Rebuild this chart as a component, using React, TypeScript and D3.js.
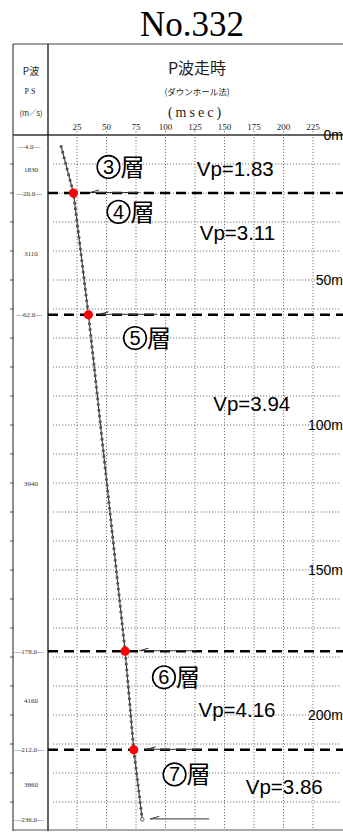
import React from "react";
import * as d3 from "d3";

const W = 343;
const H = 832;

// travel-time curve (depth m, time msec)
const depths = [4, 20, 40, 62, 80, 100, 120, 140, 160, 178, 195, 212, 224, 236];
const times = [11.6, 22.0, 28.1, 34.7, 39.6, 44.9, 50.3, 55.6, 61.0, 65.8, 69.5, 73.1, 76.7, 80.3];

// layer boundaries
const boundaries = [20, 62, 178, 212];
const boundaryTimes = [22.0, 34.7, 65.8, 73.1];
const arrowDepths = [20, 62, 178, 212, 236];
const arrowStarts = [36, 44, 78, 84, 87];
const arrowEnds = [78, 93, 126, 129, 137];

// left column labels
const depthMarks = ["-4.0-", "-20.0-", "-62.0-", "-178.0-", "-212.0-", "-236.0-"];
const depthMarkVals = [4, 20, 62, 178, 212, 236];
const psVals = ["1830", "3110", "3940", "4160", "3860"];
const psDepths = [12, 41, 120, 195, 224];

// annotations
const layerNums = ["3", "4", "5", "6", "7"];
const layerX = [41.5, 50, 64, 88.5, 97.5];
const layerDepth = [11, 26.5, 70, 187, 220.5];
const vpTexts = ["Vp=1.83", "Vp=3.11", "Vp=3.94", "Vp=4.16", "Vp=3.86"];
const vpX = [126.5, 129, 140.5, 128, 168];
const vpDepth = [11.5, 33.5, 92.5, 198, 224.5];

const timeTicks = [25, 50, 75, 100, 125, 150, 175, 200, 225];
const depthLabels = ["0m", "50m", "100m", "150m", "200m"];
const depthLabelVals = [0, 50, 100, 150, 200];
const gridDepths = d3.range(10, 240, 10);

export default function App() {
  const x = d3.scaleLinear().domain([0, 250]).range([47.5, 342.5]);
  const y = d3.scaleLinear().domain([0, 240]).range([135, 831]);
  const pts: [number, number][] = depths.map((d, i) => [x(times[i]), y(d)]);
  const line = d3.line()(pts) || "";
  const ink = "#222";
  const sans = "'Liberation Sans', Arial, sans-serif";
  const serif = "'Liberation Serif', 'Times New Roman', serif";
  const cjk = "'Noto Sans CJK JP', sans-serif";

  return (
    <div style={{ position: "absolute", left: 0, top: 0 }}>
      <svg width={W} height={H} style={{ display: "block", background: "#fff" }}>
        {/* title */}
        <text x={192} y={36} textAnchor="middle" fontFamily={serif} fontSize={35} fill="#000">
          No.332
        </text>

        {/* frame */}
        <line x1={13} x2={343} y1={44} y2={44} stroke="#444" strokeWidth={1.2} />
        <line x1={13} x2={343} y1={135} y2={135} stroke="#333" strokeWidth={1.4} />
        <line x1={13} x2={13} y1={44} y2={831} stroke="#444" strokeWidth={1.2} />
        <line x1={48} x2={48} y1={44} y2={831} stroke="#222" strokeWidth={1.4} />
        <line x1={13} x2={343} y1={830} y2={830} stroke="#555" strokeWidth={1} />

        {/* horizontal grid */}
        {gridDepths.map((d) => (
          <line key={"h" + d} x1={53} x2={341} y1={y(d)} y2={y(d)} stroke="#777" strokeWidth={1} strokeDasharray="1.2 1.8" />
        ))}
        {/* vertical grid */}
        {timeTicks.map((t) => (
          <line key={"v" + t} x1={x(t)} x2={x(t)} y1={131} y2={830} stroke="#777" strokeWidth={1} strokeDasharray="1.2 1.8" />
        ))}
        {timeTicks.map((t) => (
          <text key={"t" + t} x={x(t)} y={130} textAnchor="middle" fontFamily={serif} fontSize={9} fill={ink}>
            {t}
          </text>
        ))}

        {/* header texts */}
        <text x={197} y={74} textAnchor="middle" fontFamily={cjk} fontSize={16} fill={ink}>P波走時</text>
        <text x={197} y={95} textAnchor="middle" fontFamily={cjk} fontSize={8.5} fill={ink}>(ダウンホール法)</text>
        <text x={196} y={117} textAnchor="middle" fontFamily={serif} fontSize={14} fill={ink} letterSpacing={3}>(msec)</text>
        <text x={31} y={75} textAnchor="middle" fontFamily={cjk} fontSize={10} fill={ink}>P波</text>
        <text x={31} y={94} textAnchor="middle" fontFamily={serif} fontSize={8} fill={ink} letterSpacing={2}>PS</text>
        <text x={31} y={116} textAnchor="middle" fontFamily={cjk} fontSize={7.5} fill={ink}>(m／s)</text>

        {/* left column ticks */}
        {gridDepths.map((d) => (
          <line key={"lt" + d} x1={10} x2={14} y1={y(d)} y2={y(d)} stroke="#555" strokeWidth={1} />
        ))}
        {depthMarks.map((s, i) => (
          <text key={"dm" + i} x={29} y={y(depthMarkVals[i]) + 2.5} textAnchor="middle" fontFamily={serif} fontSize={7} fill="#333">
            {s.replace(/-/g, "—")}
          </text>
        ))}
        {psVals.map((s, i) => (
          <text key={"ps" + i} x={31} y={y(psDepths[i]) + 2.5} textAnchor="middle" fontFamily={serif} fontSize={7} fill="#333">
            {s}
          </text>
        ))}

        {/* depth labels right */}
        {depthLabels.map((s, i) => (
          <text key={"dl" + i} x={343} y={y(depthLabelVals[i]) + 5} textAnchor="end" fontFamily={sans} fontSize={14} fill="#000">
            {s}
          </text>
        ))}

        {/* dashed layer boundaries */}
        {boundaries.map((d) => (
          <line key={"b" + d} x1={48} x2={343} y1={y(d)} y2={y(d)} stroke="#000" strokeWidth={2.6} strokeDasharray="10 6" />
        ))}

        {/* small hand-drawn arrows */}
        {arrowDepths.map((d, i) => (
          <g key={"a" + i} stroke="#333" strokeWidth={1} fill="none">
            <line x1={x(arrowStarts[i])} x2={x(arrowEnds[i])} y1={y(d) - 0.5} y2={y(d) - 0.5} />
            <line x1={x(arrowStarts[i])} x2={x(arrowStarts[i]) + 9} y1={y(d) - 0.5} y2={y(d) - 3} />
          </g>
        ))}

        {/* travel-time curve */}
        <path d={line} fill="none" stroke="#333" strokeWidth={1.1} />
        <path d={line} fill="none" stroke="#555" strokeWidth={3.2} strokeLinecap="round" strokeDasharray="0 5.8" />
        <circle cx={pts[pts.length - 1][0]} cy={pts[pts.length - 1][1]} r={1.8} fill="#fff" stroke="#333" strokeWidth={0.8} />

        {/* red boundary points */}
        {boundaries.map((d, i) => (
          <circle key={"r" + d} cx={x(boundaryTimes[i])} cy={y(d)} r={4.6} fill="#f00" />
        ))}

        {/* layer labels: circled number + 層 */}
        {layerNums.map((s, i) => {
          const cx = x(layerX[i]) + 12;
          const cy = y(layerDepth[i]);
          return (
            <g key={"ln" + i}>
              <circle cx={cx} cy={cy} r={11.3} fill="#fff" stroke="#000" strokeWidth={1.6} />
              <text x={cx} y={cy + 7} textAnchor="middle" fontFamily={sans} fontSize={20} fill="#000">
                {s}
              </text>
              <text x={cx + 12} y={cy + 9} fontFamily={cjk} fontSize={24} fill="#000">
                層
              </text>
            </g>
          );
        })}
        {vpTexts.map((s, i) => (
          <text key={"vp" + i} x={x(vpX[i])} y={y(vpDepth[i]) + 7.5} fontFamily={sans} fontSize={20.5} fill="#000">
            {s}
          </text>
        ))}
      </svg>
    </div>
  );
}
